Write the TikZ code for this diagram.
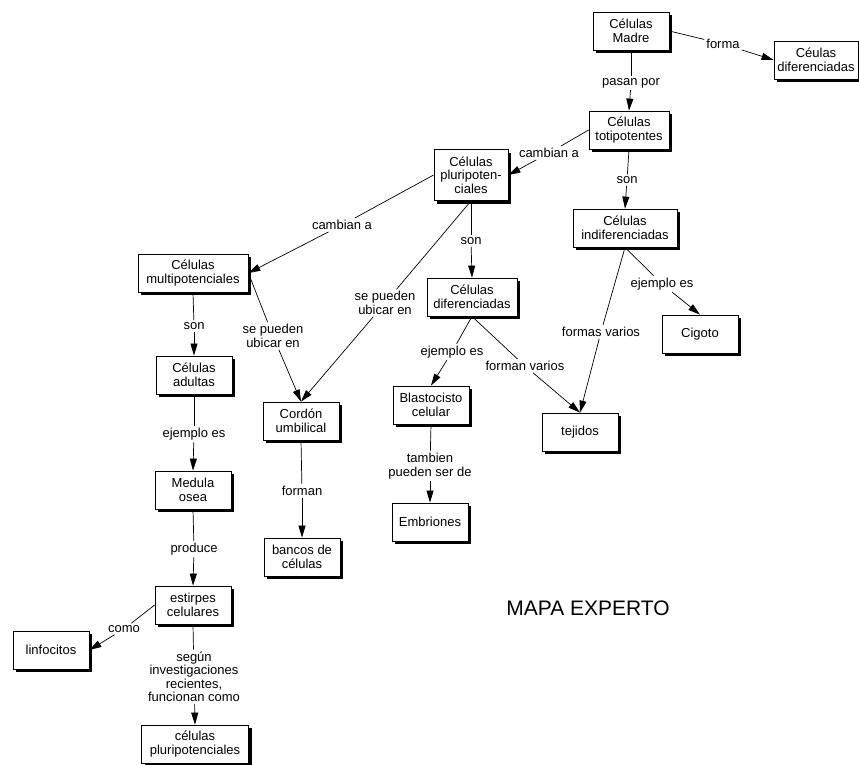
\documentclass[tikz,border=0pt]{standalone}
\usepackage{fontspec}
\setmainfont{Liberation Sans}
\usetikzlibrary{arrows.meta,shadows}
\newcommand\nodefont{\fontsize{13}{13.5}\selectfont}
\newcommand\bigfont{\fontsize{21}{23}\selectfont}
\begin{document}
\begin{tikzpicture}[x=1pt,y=-1pt,
  box/.style={draw, fill=white, line width=0.8pt, align=center,
    minimum width=76pt, minimum height=38pt, inner xsep=3pt, inner ysep=3pt,
    font=\nodefont,
    drop shadow={shadow xshift=3pt, shadow yshift=-3pt, fill=black, opacity=1}},
  lab/.style={fill=white, inner sep=2pt, align=center, font=\nodefont},
  ln/.style={line width=0.7pt},
  arr/.style={line width=0.7pt, -{Triangle[length=12pt,width=7pt]}}]
\path[use as bounding box, fill=white] (0,0) rectangle (859,765);

% boxes
\node[box] (madre) at (631,31) {Células\\Madre};
\node[box, minimum width=84pt] (difA) at (816,60) {Céulas\\diferenciadas};
\node[box, minimum width=80pt] (toti) at (629,130) {Células\\totipotentes};
\node[box, minimum height=51pt, minimum width=74pt] (pluri) at (471,175) {Células\\pluripoten-\\ciales};
\node[box, minimum width=104pt] (indif) at (625,228) {Células\\indiferenciadas};
\node[box, minimum width=110pt] (multi) at (193,273) {Células\\multipotenciales};
\node[box, minimum width=90pt] (difB) at (472,297) {Células\\diferenciadas};
\node[box] (cigoto) at (700,334) {Cigoto};
\node[box] (adultas) at (194,375) {Células\\adultas};
\node[box] (cordon) at (301,421) {Cordón\\umbilical};
\node[box] (blasto) at (431,405) {Blastocisto\\celular};
\node[box] (tejidos) at (580,432) {tejidos};
\node[box] (embri) at (430,522) {Embriones};
\node[box] (medula) at (193,490) {Medula\\osea};
\node[box] (bancos) at (302,557) {bancos de\\células};
\node[box] (estirpes) at (193,605) {estirpes\\celulares};
\node[box] (linfo) at (51,650) {linfocitos};
\node[box, minimum width=107pt] (cpluri) at (195,744) {células\\pluripotenciales};

% labels
\node[lab] (lforma) at (723,44) {forma};
\node[lab] (lpasan) at (631,83) {pasan por};
\node[lab] (lcambA) at (549,153) {cambian a};
\node[lab] (lsonA) at (627,180) {son};
\node[lab] (lsonB) at (471,241) {son};
\node[lab] (lcambB) at (342,225) {cambian a};
\node[lab] (lubicA) at (385,303) {se pueden\\ubicar en};
\node[lab] (lubicB) at (273,336) {se pueden\\ubicar en};
\node[lab] (lsonC) at (194,326) {son};
\node[lab] (lejA) at (662,284) {ejemplo es};
\node[lab] (lformas) at (601,332) {formas varios};
\node[lab] (lejB) at (452,352) {ejemplo es};
\node[lab] (lforman) at (525,366) {forman varios};
\node[lab] (lejC) at (194,434) {ejemplo es};
\node[lab] (ltamb) at (430,466) {tambien\\pueden ser de};
\node[lab] (lformanB) at (302,491) {forman};
\node[lab] (lprod) at (194,549) {produce};
\node[lab] (lcomo) at (124,629) {como};
\node[lab] (lsegun) at (194,677) {según\\investigaciones\\recientes,\\funcionan como};

\node[font=\bigfont] (titulo) at (588,608) {MAPA EXPERTO};

% connectors
\draw[ln] (madre.east) -- (lforma);   \draw[arr] (lforma) -- (difA.west);
\draw[ln] (madre.south) -- (lpasan);  \draw[arr] (lpasan) -- (toti.north);
\draw[ln] (toti.west) -- (lcambA);    \draw[arr] (lcambA) -- (pluri.east);
\draw[ln] (toti.south) -- (lsonA);    \draw[arr] (lsonA) -- (indif.north);
\draw[ln] (pluri.south) -- (lsonB);   \draw[arr] (lsonB) -- (difB.north);
\draw[ln] (pluri.west) -- (lcambB);   \draw[arr] (lcambB) -- (multi.east);
\draw[ln] (pluri.south) -- (lubicA);  \draw[arr] (lubicA) -- (cordon.north);
\draw[ln] (multi.east) -- (lubicB);   \draw[arr] (lubicB) -- (cordon.north);
\draw[ln] (multi.south) -- (lsonC);   \draw[arr] (lsonC) -- (adultas.north);
\draw[ln] (indif.south) -- (lejA);    \draw[arr] (lejA) -- (cigoto.north);
\draw[ln] (indif.south) -- (lformas); \draw[arr] (lformas) -- (tejidos.north);
\draw[ln] (difB.south) -- (lejB);     \draw[arr] (lejB) -- (blasto.north);
\draw[ln] (difB.south) -- (lforman);  \draw[arr] (lforman) -- (tejidos.north);
\draw[ln] (adultas.south) -- (lejC);  \draw[arr] (lejC) -- (medula.north);
\draw[ln] (blasto.south) -- (ltamb);  \draw[arr] (ltamb) -- (embri.north);
\draw[ln] (cordon.south) -- (lformanB); \draw[arr] (lformanB) -- (bancos.north);
\draw[ln] (medula.south) -- (lprod);  \draw[arr] (lprod) -- (estirpes.north);
\draw[ln] (estirpes.west) -- (lcomo); \draw[arr] (lcomo) -- (linfo.east);
\draw[ln] (estirpes.south) -- (lsegun); \draw[arr] (lsegun) -- (cpluri.north);
\end{tikzpicture}
\end{document}
